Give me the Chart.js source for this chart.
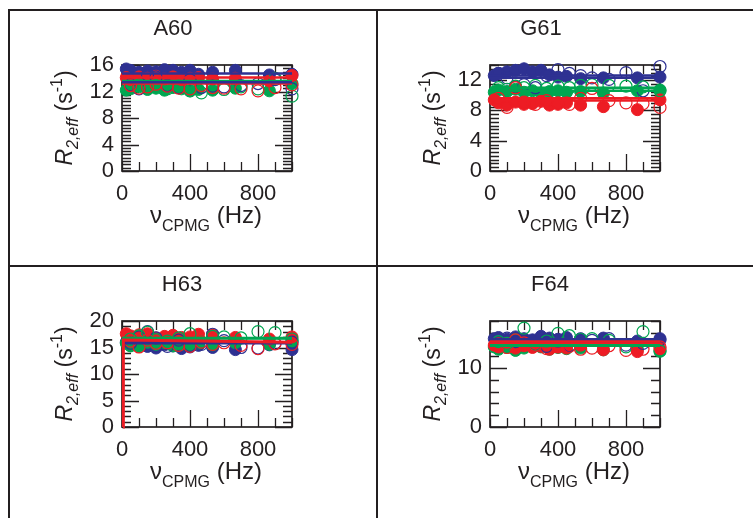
<!DOCTYPE html>
<html lang="en">
<head>
<meta charset="UTF-8">
<title>R2,eff dispersion – A60, G61, H63, F64</title>
<script src="https://cdn.jsdelivr.net/npm/chart.js"></script>
<style>
html, body { margin: 0; background: #fff; }
body { width: 753px; height: 518px; overflow: hidden; position: relative; }
.panel { position: absolute; border-left: 2px solid #231f20; border-top: 2px solid #231f20; }
.panel canvas { display: block; }
</style>
</head>
<body>
<div class="panel" style="left:8px;top:9px"><canvas id="p0" width="366" height="254"></canvas></div>
<div class="panel" style="left:376px;top:9px"><canvas id="p1" width="377" height="254"></canvas></div>
<div class="panel" style="left:8px;top:265px"><canvas id="p2" width="366" height="253"></canvas></div>
<div class="panel" style="left:376px;top:265px"><canvas id="p3" width="377" height="253"></canvas></div>

<script>
const ink = '#231f20';
const blue = '#2e3192', green = '#00a651', red = '#ed1c24';
const family = '"Liberation Sans", Arial, Helvetica, sans-serif';

// CPMG frequencies (Hz): filled = first field, open = second field
const nuFilled = [25, 50, 100, 150, 200, 250, 300, 350, 400, 450, 533, 667, 867, 1000];
const nuOpen   = [50, 100, 150, 200, 267, 333, 400, 467, 533, 600, 700, 800, 900, 1000];
const fitNu = [0, 1000];

// A60
const a60BlueFilled  = [15.4, 15.2, 14.9, 15.1, 15.0, 15.3, 15.2, 14.9, 15.2, 14.6, 14.9, 15.2, 14.5, 14.6];
const a60BlueOpen    = [13.0, 12.4, 14.5, 14.2, 12.9, 12.6, 13.8, 12.6, 12.8, 12.7, 12.9, 13.2, 13.8, 12.4];
const a60GreenFilled = [12.2, 12.4, 12.7, 12.3, 12.5, 12.2, 12.6, 12.4, 12.1, 12.3, 12.2, 12.5, 12.1, 13.2];
const a60GreenOpen   = [12.8, 13.0, 12.6, 12.9, 12.4, 12.8, 12.1, 11.8, 12.5, 12.3, 12.7, 12.4, 14.0, 11.3];
const a60RedFilled   = [14.1, 13.8, 14.2, 14.0, 14.3, 13.9, 14.2, 13.8, 14.0, 14.1, 13.9, 14.0, 13.6, 14.4];
const a60RedOpen     = [12.9, 12.5, 12.7, 13.1, 12.8, 12.5, 12.4, 12.9, 12.6, 12.5, 12.4, 12.1, 12.6, 13.0];
const a60Fit = [14.7, 13.4, 13.6, 13.5, 14.1, 13.2];   // blue F/O, green F/O, red F/O

// G61
const g61BlueFilled  = [12.6, 12.9, 13.1, 13.3, 13.5, 13.1, 13.3, 12.7, 12.4, 12.5, 12.2, 12.3, 12.3, 12.4];
const g61BlueOpen    = [12.9, 12.3, 11.1, 11.4, 11.0, 12.6, 13.4, 12.9, 12.6, 12.3, 12.1, 13.0, 10.6, 13.8];
const g61GreenFilled = [10.4, 10.7, 10.5, 10.8, 10.4, 10.6, 10.3, 10.5, 10.6, 10.4, 10.5, 10.3, 10.6, 10.7];
const g61GreenOpen   = [11.0, 10.8, 11.2, 11.0, 11.3, 10.9, 11.2, 11.0, 11.3, 11.4, 11.3, 11.2, 11.1, 10.6];
const g61RedFilled   = [9.4, 9.0, 8.7, 9.1, 8.8, 8.9, 9.2, 8.7, 8.8, 9.0, 8.7, 8.5, 8.1, 9.4];
const g61RedOpen     = [9.6, 8.4, 11.0, 9.1, 8.8, 9.3, 9.0, 8.8, 9.6, 10.9, 9.3, 9.0, 8.9, 8.4];
const g61Fit = [12.6, 12.3, 11.0, 10.6, 9.6, 9.3];

// H63
const h63BlueFilled  = [16.0, 15.4, 15.6, 15.2, 14.9, 15.5, 15.3, 14.8, 15.1, 15.4, 15.0, 14.6, 15.5, 14.6];
const h63BlueOpen    = [15.8, 17.0, 18.0, 16.8, 15.2, 16.4, 15.4, 15.6, 17.5, 16.3, 15.0, 14.9, 15.8, 16.0];
const h63GreenFilled = [15.8, 15.3, 15.2, 16.0, 15.6, 15.9, 15.3, 15.6, 15.4, 15.8, 15.5, 15.9, 15.6, 16.2];
const h63GreenOpen   = [16.6, 17.2, 17.9, 16.5, 16.2, 16.8, 17.6, 16.0, 17.1, 17.0, 16.8, 18.0, 17.8, 16.6];
const h63RedFilled   = [17.6, 17.2, 17.4, 17.6, 16.8, 17.1, 17.3, 16.9, 17.0, 17.5, 17.4, 16.9, 16.6, 17.0];
const h63RedOpen     = [16.2, 15.1, 16.4, 15.8, 15.9, 15.4, 15.2, 16.0, 15.6, 15.9, 15.4, 14.8, 15.7, 15.6];
const h63Fit = [16.0, 15.8, 16.8, 16.7, 16.1, 15.9];
// red fit of H63 rises from zero at the first frequency
const h63RedCurveNu = [6, 8, 1000];
const h63RedCurveR  = [0, 16.4, 16.0];

// F64
const f64BlueFilled  = [15.0, 15.2, 14.9, 15.3, 15.0, 14.8, 15.4, 15.1, 14.9, 15.2, 15.0, 15.1, 14.6, 15.0];
const f64BlueOpen    = [14.7, 15.1, 14.5, 14.8, 14.0, 13.7, 14.6, 13.8, 14.9, 14.7, 15.0, 13.9, 14.2, 14.8];
const f64GreenFilled = [13.6, 13.2, 13.5, 13.0, 13.4, 13.7, 13.6, 13.2, 13.5, 13.3, 13.4, 13.1, 13.2, 12.9];
const f64GreenOpen   = [14.5, 14.2, 14.8, 16.8, 14.0, 14.6, 15.9, 15.5, 14.9, 15.0, 14.7, 13.6, 16.2, 12.9];
const f64RedFilled   = [13.9, 13.6, 14.2, 13.4, 13.8, 13.5, 13.7, 13.2, 13.6, 13.4, 13.9, 13.1, 12.8, 13.3];
const f64RedOpen     = [14.1, 13.5, 14.8, 14.3, 13.9, 13.3, 13.6, 13.7, 13.2, 13.4, 13.8, 13.0, 13.2, 13.6];
const f64Fit = [14.9, 14.6, 13.9, 13.8, 14.5, 14.3];

// axes
const panelNames = ['A60', 'G61', 'H63', 'F64'];
const yMax   = [16, 14, 20, 18];
const yMajor = [4, 4, 5, 10];
const yMinor = [0.5, 0.5, 1, 2];
const xMax = 1000, xMinor = 100;
const xLabelled = [0, 400, 800];

const series = [
  [a60BlueFilled, a60BlueOpen, a60GreenFilled, a60GreenOpen, a60RedFilled, a60RedOpen, a60Fit],
  [g61BlueFilled, g61BlueOpen, g61GreenFilled, g61GreenOpen, g61RedFilled, g61RedOpen, g61Fit],
  [h63BlueFilled, h63BlueOpen, h63GreenFilled, h63GreenOpen, h63RedFilled, h63RedOpen, h63Fit],
  [f64BlueFilled, f64BlueOpen, f64GreenFilled, f64GreenOpen, f64RedFilled, f64RedOpen, f64Fit]
];

const pts = (xs, ys) => ys.map((v, i) => ({ x: xs[i], y: v }));

// frame + inward ticks on all four sides, drawn under the points
const frameTicks = {
  id: 'frameTicks',
  beforeDatasetsDraw(chart) {
    const { ctx, chartArea: a, scales: { x, y } } = chart;
    ctx.save();
    ctx.strokeStyle = ink;
    ctx.lineWidth = 1.3;
    ctx.beginPath();
    x.ticks.forEach(t => {
      const px = Math.round(x.getPixelForValue(t.value)) + 0.5;
      const len = t.label !== '' && t.value !== 0 ? 17 : 9;
      ctx.moveTo(px, a.bottom); ctx.lineTo(px, a.bottom - len);
      ctx.moveTo(px, a.top); ctx.lineTo(px, a.top + len);
    });
    y.ticks.forEach(t => {
      const py = Math.round(y.getPixelForValue(t.value)) + 0.5;
      const len = t.label !== '' ? 17 : 9;
      ctx.moveTo(a.left, py); ctx.lineTo(a.left + len, py);
      ctx.moveTo(a.right, py); ctx.lineTo(a.right - len, py);
    });
    ctx.stroke();
    ctx.lineWidth = 1.7;
    ctx.strokeRect(a.left, a.top, a.right - a.left, a.bottom - a.top);
    ctx.restore();
  }
};

// panel name and the axis titles with sub/superscripts
function drawRuns(ctx, runs, cx, y) {
  let total = 0;
  runs.forEach(r => {
    ctx.font = `${r.italic ? 'italic ' : ''}${r.size}px ${family}`;
    r.w = ctx.measureText(r.t).width;
    total += r.w;
  });
  let x = cx - total / 2;
  runs.forEach(r => {
    ctx.font = `${r.italic ? 'italic ' : ''}${r.size}px ${family}`;
    ctx.fillText(r.t, x, y + (r.dy || 0));
    x += r.w;
  });
}

const xTitle = [
  { t: 'ν', size: 24 },
  { t: 'CPMG', size: 16, dy: 8 },
  { t: ' (Hz)', size: 24 }
];
const yTitle = [
  { t: 'R', size: 23, italic: true },
  { t: '2,eff', size: 16, italic: true, dy: 6 },
  { t: ' (s', size: 23 },
  { t: '-1', size: 16, dy: -10 },
  { t: ')', size: 23 }
];

const richText = {
  id: 'richText',
  afterDraw(chart, args, opts) {
    const { ctx, chartArea: a } = chart;
    ctx.save();
    ctx.fillStyle = ink;
    ctx.textBaseline = 'alphabetic';
    ctx.textAlign = 'center';
    ctx.font = `22px ${family}`;
    ctx.fillText(opts.name, opts.nameX, 24);
    ctx.textAlign = 'left';
    drawRuns(ctx, xTitle, (a.left + a.right) / 2 - 1, a.bottom + 52);
    ctx.translate(a.left - 50, (a.top + a.bottom) / 2);
    ctx.rotate(-Math.PI / 2);
    drawRuns(ctx, yTitle, 0, 0);
    ctx.restore();
  }
};

series.forEach((s, k) => {
  const canvas = document.getElementById('p' + k);
  const [bF, bO, gF, gO, rF, rO, fit] = s;
  const filled = (c, ys, order) => ({
    data: pts(nuFilled, ys), backgroundColor: c, borderColor: c, borderWidth: 1,
    pointRadius: 6, order, clip: false
  });
  const open = (c, ys, order) => ({
    data: pts(nuOpen, ys), backgroundColor: 'rgba(0,0,0,0)', borderColor: c, borderWidth: 1.2,
    pointRadius: 6, order, clip: false
  });
  const line = (c, v, order) => ({
    data: pts(fitNu, [v, v]), showLine: true, borderColor: c, borderWidth: 2.5,
    pointRadius: 0, order, clip: false
  });
  const datasets = [
    line(blue, fit[0], 0), line(blue, fit[1], 0),
    line(green, fit[2], 0), line(green, fit[3], 0),
    line(red, fit[5], 0),
    open(red, rO, 1), open(green, gO, 2), open(blue, bO, 3),
    filled(red, rF, 4), filled(green, gF, 5), filled(blue, bF, 6)
  ];
  if (k === 2) {
    datasets.unshift({
      data: pts(h63RedCurveNu, h63RedCurveR), showLine: true, borderColor: red,
      borderWidth: 3, pointRadius: 0, order: 0, clip: false
    });
  } else {
    datasets.unshift(line(red, fit[4], 0));
  }

  new Chart(canvas, {
    type: 'scatter',
    data: { datasets },
    options: {
      responsive: false,
      animation: false,
      layout: { padding: { left: 52, top: 54, right: canvas.width - 282, bottom: canvas.height - 160 - 40 } },
      plugins: {
        legend: { display: false },
        tooltip: { enabled: false },
        richText: { name: panelNames[k], nameX: k < 2 ? 163 : 172 }
      },
      scales: {
        x: {
          type: 'linear', min: 0, max: xMax,
          grid: { display: false, drawTicks: false },
          border: { display: false },
          ticks: {
            stepSize: xMinor, autoSkip: false, maxRotation: 0, padding: 10,
            color: ink, font: { size: 22, family },
            callback: v => xLabelled.includes(v) ? String(v) : ''
          },
          afterFit: sc => { sc.height = 40; }
        },
        y: {
          type: 'linear', min: 0, max: yMax[k],
          grid: { display: false, drawTicks: false },
          border: { display: false },
          ticks: {
            stepSize: yMinor[k], autoSkip: false, padding: 8,
            color: ink, font: { size: 22, family },
            callback: v => Math.abs(v / yMajor[k] - Math.round(v / yMajor[k])) < 1e-6 ? String(v) : ''
          },
          afterFit: sc => { sc.width = 60; }
        }
      }
    },
    plugins: [frameTicks, richText]
  });
});
</script>
</body>
</html>
